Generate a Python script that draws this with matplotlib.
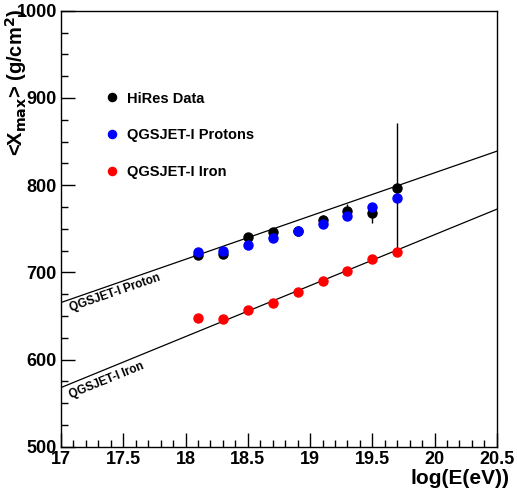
import numpy as np
import matplotlib
matplotlib.use("Agg")
import matplotlib.pyplot as plt
from matplotlib.ticker import MultipleLocator

# energy bins, log10(E/eV)
log_e = [18.1, 18.3, 18.5, 18.7, 18.9, 19.1, 19.3, 19.5, 19.7]

# <Xmax> in g/cm^2
hires_xmax = [720, 721, 741, 746, 747, 760, 771, 768, 797]
hires_err = [3, 3, 3, 4, 5, 6, 8, 11, 74]
proton_xmax = [724, 725, 731, 739, 747, 755, 765, 775, 785]
iron_xmax = [648, 647, 657, 665, 678, 690, 702, 715, 723]

# QGSJET-I elongation lines (end points at 17 and 20.5)
line_x = [17.0, 20.5]
proton_line = [665.5, 839.0]
iron_line = [568.0, 772.5]

plt.rcParams["font.family"] = ["Liberation Sans", "DejaVu Sans"]
plt.rcParams["font.weight"] = "bold"

fig = plt.figure(figsize=(5.17, 4.9), dpi=100)
ax = fig.add_axes([0.118, 0.088, 0.843, 0.89])

ax.plot(line_x, proton_line, color="black", lw=0.9)
ax.plot(line_x, iron_line, color="black", lw=0.9)

ax.errorbar(log_e, hires_xmax, yerr=hires_err, fmt="none", ecolor="black", elinewidth=1.0, zorder=3)
ax.plot(log_e, hires_xmax, "o", color="black", ms=6.5, zorder=4, label="HiRes Data")
ax.plot(log_e, proton_xmax, "o", color="blue", ms=6.5, zorder=4, label="QGSJET-I Protons")
ax.plot(log_e, iron_xmax, "o", color="red", ms=6.5, zorder=5, label="QGSJET-I Iron")

ax.text(17.09, 652, "QGSJET-I Proton", rotation=19, fontsize=8.5, fontweight="bold", ha="left", va="bottom", rotation_mode="anchor")
ax.text(17.09, 553, "QGSJET-I Iron", rotation=22, fontsize=8.5, fontweight="bold", ha="left", va="bottom", rotation_mode="anchor")

ax.set_xlim(17, 20.5)
ax.set_ylim(500, 1000)
ax.xaxis.set_major_locator(MultipleLocator(0.5))
ax.xaxis.set_minor_locator(MultipleLocator(0.1))
ax.yaxis.set_major_locator(MultipleLocator(100))
ax.yaxis.set_minor_locator(MultipleLocator(25))
ax.set_xticks([17, 17.5, 18, 18.5, 19, 19.5, 20, 20.5])
ax.set_xticklabels(["17", "17.5", "18", "18.5", "19", "19.5", "20", "20.5"])
ax.tick_params(which="major", direction="in", length=10, width=1, labelsize=13, pad=3)
ax.tick_params(which="minor", direction="in", length=5, width=1)
for sp in ax.spines.values():
    sp.set_linewidth(1.0)

leg = ax.legend(loc="upper left", bbox_to_anchor=(0.07, 0.845), frameon=False,
                handletextpad=0.5, labelspacing=1.55, markerscale=0.9,
                handlelength=1.0, prop={"weight": "bold", "size": 10.5})

fig.text(0.985, 0.005, "log(E(eV))", ha="right", va="bottom", fontsize=15, fontweight="bold")
fig.text(0.031, 0.982, "<X$_{\\mathbf{max}}$> (g/cm$^{\\mathbf{2}}$)", rotation=90, ha="center", va="top",
         fontsize=14.5, fontweight="bold")

fig.savefig("out.png", dpi=100)
